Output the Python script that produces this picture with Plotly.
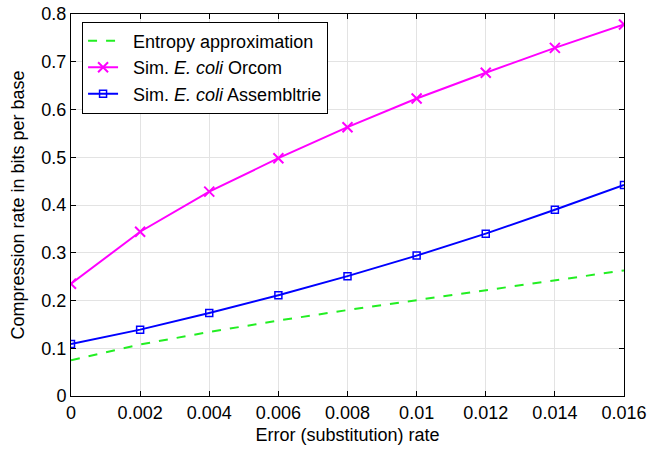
import plotly.graph_objects as go

error_rate = [0, 0.002, 0.004, 0.006, 0.008, 0.010, 0.012, 0.014, 0.016]
entropy_approx = [0.075, 0.108, 0.134, 0.158, 0.180, 0.201, 0.222, 0.242, 0.263]
orcom = [0.235, 0.344, 0.428, 0.498, 0.563, 0.623, 0.677, 0.729, 0.778]
assembltrie = [0.109, 0.139, 0.174, 0.211, 0.251, 0.294, 0.340, 0.390, 0.442]

x_ticks = [0, 0.002, 0.004, 0.006, 0.008, 0.010, 0.012, 0.014, 0.016]
x_tick_labels = ["0", "0.002", "0.004", "0.006", "0.008", "0.01", "0.012", "0.014", "0.016"]
y_ticks = [0, 0.1, 0.2, 0.3, 0.4, 0.5, 0.6, 0.7, 0.8]
y_tick_labels = ["0", "0.1", "0.2", "0.3", "0.4", "0.5", "0.6", "0.7", "0.8"]

FONT = "Liberation Sans, Arial, sans-serif"
FS = 18

fig = go.Figure()
fig.add_trace(go.Scatter(
    x=error_rate, y=entropy_approx, mode="lines", name="&nbsp;&nbsp;Entropy approximation",
    line=dict(color="#22ee22", width=2, dash="dash")))
fig.add_trace(go.Scatter(
    x=error_rate, y=orcom, mode="lines+markers", name="&nbsp;&nbsp;Sim. <i>E. coli</i> Orcom",
    line=dict(color="#ff00ff", width=2),
    marker=dict(symbol="x-thin", size=10, line=dict(color="#ff00ff", width=2))))
fig.add_trace(go.Scatter(
    x=error_rate, y=assembltrie, mode="lines+markers", name="&nbsp;&nbsp;Sim. <i>E. coli</i> Assembltrie",
    line=dict(color="#0000ff", width=2),
    marker=dict(symbol="square-open", size=7, color="#0000ff", line=dict(width=1.5))))

axis_common = dict(
    showline=True, linecolor="black", linewidth=1, mirror="ticks",
    ticks="inside", ticklen=5, tickcolor="black",
    showgrid=True, gridcolor="#e3e3e3", gridwidth=1, zeroline=False,
    tickfont=dict(family=FONT, size=FS, color="black"),
    automargin=False,
)

fig.update_xaxes(range=[0, 0.016], tickvals=x_ticks, ticktext=x_tick_labels,
                 title=dict(text="Error (substitution) rate", standoff=6,
                            font=dict(family=FONT, size=FS, color="black")),
                 **axis_common)
fig.update_yaxes(range=[0, 0.8], tickvals=y_ticks, ticktext=y_tick_labels,
                 title=dict(text="Compression rate in bits per base", standoff=12,
                            font=dict(family=FONT, size=FS, color="black")),
                 **axis_common)

fig.update_layout(
    width=647, height=454,
    margin=dict(l=71, r=23, t=14, b=58),
    plot_bgcolor="white", paper_bgcolor="white",
    font=dict(family=FONT, size=FS, color="black"),
    legend=dict(x=0.02, y=0.98, xanchor="left", yanchor="top",
                bgcolor="white", bordercolor="black", borderwidth=1,
                font=dict(size=FS), tracegroupgap=0, itemwidth=30),
    showlegend=True,
)

fig.write_html("out.html")
